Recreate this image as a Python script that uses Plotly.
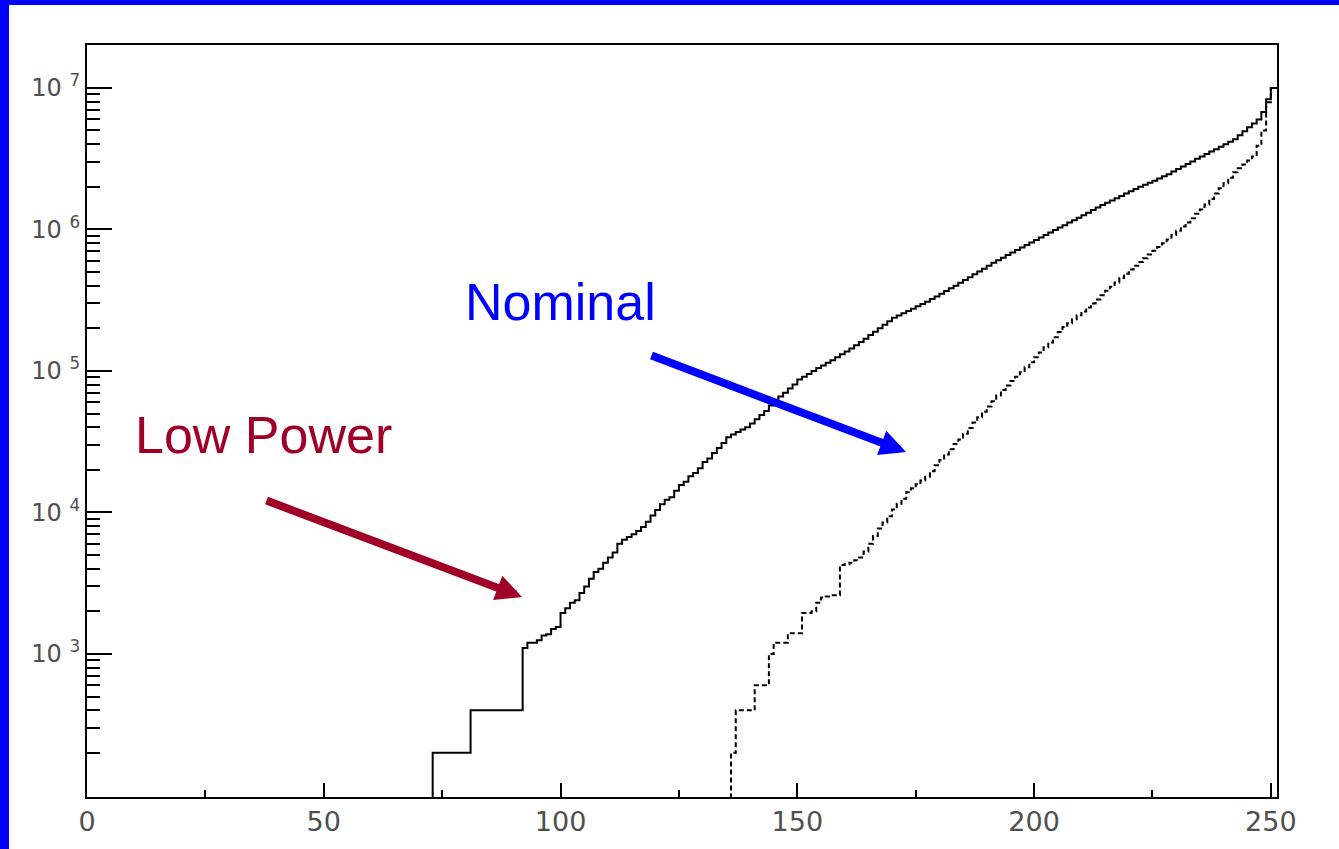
import plotly.graph_objects as go

# ---------------- data ----------------
low_power_first_bin = 73
low_power_counts = [
    200, 200, 200, 200, 200, 200, 200, 200,                      # 73-80
    400, 400, 400, 400, 400, 400, 400, 400, 400, 400, 400,       # 81-91
    1100, 1200, 1200, 1250, 1350, 1380, 1500, 1550,              # 92-99
    1950, 2100, 2300, 2400, 2700, 3000, 3400, 3800, 4000, 4400,  # 100-109
    4800, 5200, 6000, 6400, 6700, 7000, 7400, 7900, 8600, 9500,  # 110-119
    10400, 11400, 12300, 12800, 14200, 15600, 16500, 18000, 19000, 20500,  # 120-129
    22700, 24000, 26300, 28500, 31000, 34000, 35500, 37000, 38500, 40000,  # 130-139
    42500, 45500, 48800, 52000, 57000, 60000, 66000, 70000, 75000, 80000,  # 140-149
    87000, 91000, 95000, 100000, 105000, 109000, 114000, 119000, 125000, 131000,  # 150-159
    137000, 144000, 152000, 160000, 169000, 179000, 189000, 200000, 212000, 224000,  # 160-169
    237000, 246000, 255000, 265000, 275000, 286000, 297000, 308000, 322000, 336000,  # 170-179
    351000, 367000, 383000, 400000, 419000, 439000, 459000, 481000, 503000, 527000,  # 180-189
    553000, 580000, 605000, 631000, 658000, 686000, 715000, 746000, 777000, 809000,  # 190-199
    842000, 877000, 913000, 950000, 990000, 1030000, 1070000, 1120000, 1160000, 1210000,  # 200-209
    1260000, 1310000, 1370000, 1430000, 1490000, 1540000, 1600000, 1660000, 1720000, 1790000,  # 210-219
    1860000, 1930000, 2000000, 2070000, 2140000, 2210000, 2290000, 2370000, 2450000, 2560000,  # 220-229
    2670000, 2780000, 2900000, 3020000, 3150000, 3280000, 3410000, 3550000, 3690000, 3840000,  # 230-239
    3990000, 4160000, 4330000, 4620000, 4930000, 5260000, 5610000, 5980000, 6750000, 8300000,  # 240-249
    10000000, 10000000,                                                                         # 250-251
]

nominal_first_bin = 136
nominal_counts = [
    200, 400, 400, 400, 400, 600, 600, 600, 1000, 1200,          # 136-145
    1200, 1200, 1400, 1400, 1400, 1950, 1950, 2000, 2300, 2500,  # 146-155
    2550, 2600, 2600, 4250, 4300, 4400, 4600, 4800, 5300, 6000,  # 156-165
    6800, 7700, 8500, 9400, 10500, 11500, 12500, 13900, 14800, 15800,  # 166-175
    16800, 17900, 19500, 21500, 23500, 25700, 28000, 30500, 32800, 36000,  # 176-185
    39500, 43200, 47000, 51500, 56000, 61000, 67000, 73400, 79000, 85000,  # 186-195
    91000, 98000, 106000, 115000, 125000, 135000, 147000, 159000, 173000, 188000,  # 196-205
    204000, 217000, 232000, 247000, 263000, 281000, 300000, 320000, 343000, 368000,  # 206-215
    394000, 422000, 453000, 486000, 521000, 554000, 589000, 626000, 665000, 707000,  # 216-225
    752000, 799000, 850000, 911000, 977000, 1050000, 1120000, 1200000, 1290000, 1380000,  # 226-235
    1500000, 1640000, 1790000, 1950000, 2120000, 2320000, 2530000, 2700000, 2880000, 3070000,  # 236-245
    3280000, 3900000, 5000000, 7900000, 10000000, 10000000,      # 246-251
]

y_tick_values = [1e3, 1e4, 1e5, 1e6, 1e7]
y_tick_labels = ["10 <sup>3</sup>", "10 <sup>4</sup>", "10 <sup>5</sup>",
                 "10 <sup>6</sup>", "10 <sup>7</sup>"]
x_tick_values = [0, 50, 100, 150, 200, 250]
x_tick_labels = ["0", "50", "100", "150", "200", "250"]
x_minor_values = [25, 75, 125, 175, 225]
y_minor_mantissas = [2, 3, 4, 5, 6, 7, 8, 9]
y_minor_decades = [1e2, 1e3, 1e4, 1e5, 1e6]

label_low_power = "Low Power"
label_nominal = "Nominal"

# ---------------- helpers ----------------
FLOOR = 1  # below visible range: draws the histogram edges down to the axis


def step_outline(first_bin, counts):
    xs = [first_bin] + [first_bin + i for i in range(len(counts))]
    xs += [first_bin + len(counts), first_bin + len(counts)]
    ys = [FLOOR] + list(counts) + [counts[-1], FLOOR]
    return xs, ys


lx, ly = step_outline(low_power_first_bin, low_power_counts)
nx, ny = step_outline(nominal_first_bin, nominal_counts)

fig = go.Figure()
fig.add_trace(go.Scatter(x=lx, y=ly, mode="lines", line_shape="hv",
                         line=dict(color="black", width=2), showlegend=False,
                         hoverinfo="skip"))
fig.add_trace(go.Scatter(x=nx, y=ny, mode="lines", line_shape="hv",
                         line=dict(color="black", width=2, dash="5px,3px"),
                         showlegend=False, hoverinfo="skip"))

W, H = 1339, 849
ML, MR, MT, MB = 87, 62, 45, 52
PW, PH = W - ML - MR, H - MT - MB


def px2paper(px, py):
    return (px - ML) / PW, (H - MB - py) / PH


fig.update_layout(
    width=W, height=H,
    margin=dict(l=ML, r=MR, t=MT, b=MB, pad=0),
    paper_bgcolor="white", plot_bgcolor="white",
    xaxis=dict(range=[0, 251.3], showline=True, linecolor="black", linewidth=2,
               mirror=True, showgrid=False, zeroline=False,
               ticks="inside", ticklen=14, tickwidth=2, tickcolor="black",
               tickvals=x_tick_values, ticktext=x_tick_labels,
               tickfont=dict(family="DejaVu Sans", size=27, color="#505050"),
               minor=dict(tickvals=x_minor_values, ticks="inside", ticklen=7,
                          tickwidth=2, tickcolor="black", showgrid=False)),
    yaxis=dict(type="log", range=[1.989, 7.303], showline=True, linecolor="black",
               linewidth=2, mirror=True, showgrid=False, zeroline=False,
               ticks="inside", ticklen=25, tickwidth=2, tickcolor="black",
               tickvals=y_tick_values, ticktext=y_tick_labels,
               tickfont=dict(family="DejaVu Sans", size=24, color="#505050"),
               minor=dict(tickvals=[m * d for d in y_minor_decades for m in y_minor_mantissas],
                          ticks="inside", ticklen=13, tickwidth=2,
                          tickcolor="black", showgrid=False)),
)

# blue slide border (top and left)
x0, _ = px2paper(0, 0)
x1, _ = px2paper(9, 0)
_, ytop = px2paper(0, 0)
_, ybot = px2paper(0, H)
_, ytb = px2paper(0, 5)
xr, _ = px2paper(W, 0)
fig.add_shape(type="rect", xref="paper", yref="paper", x0=x0, x1=x1, y0=ybot, y1=ytop,
              fillcolor="#0000FF", line_width=0, layer="above")
fig.add_shape(type="rect", xref="paper", yref="paper", x0=x0, x1=xr, y0=ytb, y1=ytop,
              fillcolor="#0000FF", line_width=0, layer="above")

RED = "#A00028"
BLUE = "#0000FF"

# text labels
tx, ty = px2paper(560, 302)
fig.add_annotation(x=tx, y=ty, xref="paper", yref="paper", text=label_nominal,
                   xanchor="center", yanchor="middle", showarrow=False,
                   font=dict(family="Liberation Sans", size=52, color=BLUE))
tx, ty = px2paper(263, 435)
fig.add_annotation(x=tx, y=ty, xref="paper", yref="paper", text=label_low_power,
                   xanchor="center", yanchor="middle", showarrow=False,
                   font=dict(family="Liberation Sans", size=52, color=RED))

# arrows
hx, hy = px2paper(906, 452)
fig.add_annotation(x=hx, y=hy, xref="paper", yref="paper", text="", showarrow=True,
                   ax=650 - 906, ay=355 - 452, axref="pixel", ayref="pixel",
                   arrowhead=2, arrowsize=0.65, arrowwidth=8, arrowcolor=BLUE, standoff=0)
hx, hy = px2paper(522, 597)
fig.add_annotation(x=hx, y=hy, xref="paper", yref="paper", text="", showarrow=True,
                   ax=265 - 522, ay=500 - 597, axref="pixel", ayref="pixel",
                   arrowhead=2, arrowsize=0.65, arrowwidth=8, arrowcolor=RED, standoff=0)

fig.write_html("out.html")
